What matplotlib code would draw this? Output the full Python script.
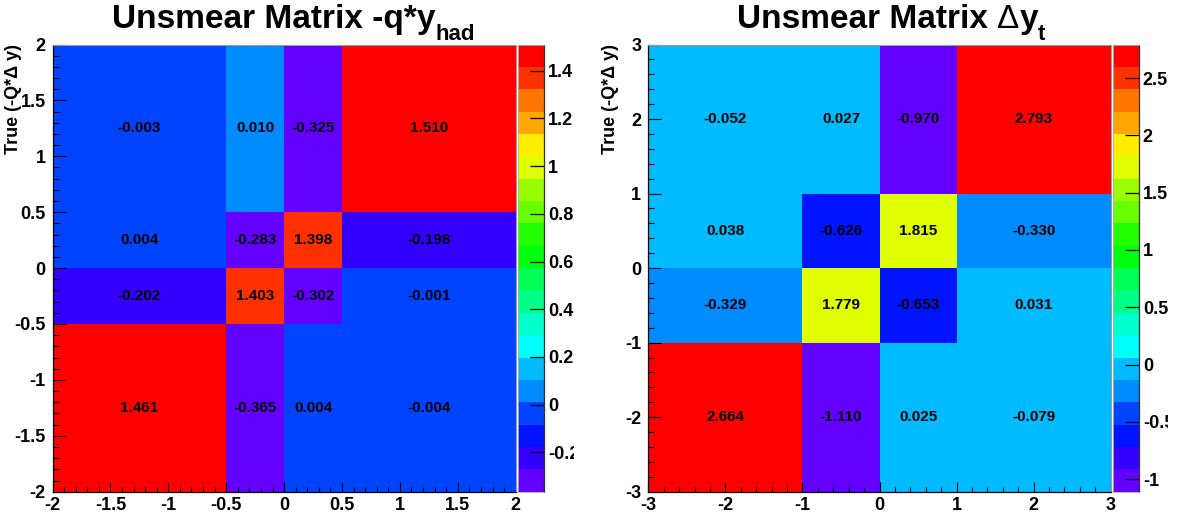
import colorsys
import numpy as np
import matplotlib
matplotlib.use("Agg")
import matplotlib.pyplot as plt
from matplotlib.colors import ListedColormap, BoundaryNorm
from matplotlib.ticker import AutoMinorLocator
from matplotlib.transforms import Bbox, TransformedBbox

FONT = "Liberation Sans"
plt.rcParams["font.family"] = [FONT, "DejaVu Sans"]
plt.rcParams["axes.unicode_minus"] = False

# ---- left panel: -q*y_had ----
edges_had = [-2.0, -0.5, 0.0, 0.5, 2.0]
unsmear_had = [
    [1.461, -0.365, 0.004, -0.004],
    [-0.202, 1.403, -0.302, -0.001],
    [0.004, -0.283, 1.398, -0.198],
    [-0.003, 0.010, -0.325, 1.510],
]
ticks_had = [-2, -1.5, -1, -0.5, 0, 0.5, 1, 1.5, 2]
cbar_ticks_had = [-0.2, 0, 0.2, 0.4, 0.6, 0.8, 1, 1.2, 1.4]

# ---- right panel: delta y_t ----
edges_dyt = [-3.0, -1.0, 0.0, 1.0, 3.0]
unsmear_dyt = [
    [2.664, -1.110, 0.025, -0.079],
    [-0.329, 1.779, -0.653, 0.031],
    [0.038, -0.626, 1.815, -0.330],
    [-0.052, 0.027, -0.970, 2.793],
]
ticks_dyt = [-3, -2, -1, 0, 1, 2, 3]
cbar_ticks_dyt = [-1, -0.5, 0, 0.5, 1, 1.5, 2, 2.5]

ylabel_text = "True (-Q*\u0394 y)"
N_CONT = 20
# cell values are quoted to 3 decimals; contour edges get one last-digit of slack
ROUND_TOL = 0.001


def pretty_palette(ncont, ncolors=50, max_hue=280.0):
    """Rainbow palette (hue 280 -> 0) sampled for ncont contour bands."""
    cols = []
    for j in range(ncont):
        idx = int((j + 0.99) * ncolors / ncont)
        hue = max_hue - (idx + 1) * (max_hue / ncolors)
        cols.append(colorsys.hls_to_rgb(hue / 360.0, 0.5, 1.0))
    return cols


CMAP = ListedColormap(pretty_palette(N_CONT))

W, H = 1180, 520
fig = plt.figure(figsize=(W / 100, H / 100), dpi=100)


def fx(px):
    return px / W


def fy(py):
    return 1 - py / H


def draw_panel(x0, x1, cx0, cx1, edges, values, ticks, cticks, clip_px, ylab_px):
    vals = np.array(values)
    zmin, zmax = vals.min(), vals.max()
    levels = np.linspace(zmin, zmax, N_CONT + 1)
    bounds = levels.copy()
    bounds[1:-1] -= ROUND_TOL
    norm = BoundaryNorm(bounds, N_CONT, clip=True)

    top, bot = 44.5, 491.7
    ax = fig.add_axes([fx(x0), fy(bot), fx(x1 - x0), (bot - top) / H])
    ax.pcolormesh(edges, edges, vals, cmap=CMAP, norm=norm, shading="flat")
    ax.set_xlim(edges[0], edges[-1])
    ax.set_ylim(edges[0], edges[-1])

    e = np.array(edges)
    centers = (e[:-1] + e[1:]) / 2
    for iy, yc in enumerate(centers):
        for ix, xc in enumerate(centers):
            ax.text(xc, yc, f"{vals[iy, ix]:.3f}", ha="center", va="center",
                    fontsize=11, fontweight="bold", color="black")

    labels = [f"{t:g}" for t in ticks]
    ax.set_xticks(ticks, labels=labels)
    ax.set_yticks(ticks, labels=labels)
    ax.xaxis.set_minor_locator(AutoMinorLocator(5))
    ax.yaxis.set_minor_locator(AutoMinorLocator(5))
    ax.tick_params(axis="both", which="both", direction="in", top=False,
                   right=False, colors="black", width=0.8)
    ax.tick_params(axis="x", which="major", length=7.5, pad=3.5)
    ax.tick_params(axis="x", which="minor", length=3.8)
    ax.tick_params(axis="y", which="major", length=9, pad=5)
    ax.tick_params(axis="y", which="minor", length=4.5)
    for lab in ax.get_xticklabels() + ax.get_yticklabels():
        lab.set_fontsize(13)
        lab.set_fontweight("bold")
    for s in ("left", "bottom"):
        ax.spines[s].set_color("black")
        ax.spines[s].set_linewidth(0.9)
    for s in ("top", "right"):
        ax.spines[s].set_color("#9a9a9a")
        ax.spines[s].set_linewidth(0.8)

    # palette axis
    cax = fig.add_axes([fx(cx0), fy(bot), fx(cx1 - cx0), (bot - top) / H])
    mids = (levels[:-1] + levels[1:]) / 2
    cax.pcolormesh([0, 1], levels, mids.reshape(-1, 1), cmap=CMAP, norm=norm,
                   shading="flat")
    cax.set_xlim(0, 1)
    cax.set_ylim(zmin, zmax)
    cax.set_xticks([])
    cax.yaxis.tick_right()
    cax.set_yticks(cticks, labels=[f"{t:g}" for t in cticks])
    cax.tick_params(axis="y", direction="in", length=10, width=0.9,
                    colors="black", pad=2.5)
    for s in ("left", "top", "bottom"):
        cax.spines[s].set_color("#b0b0b0")
        cax.spines[s].set_linewidth(0.6)
    cax.spines["right"].set_color("#333333")
    cax.spines["right"].set_linewidth(0.9)
    clip = TransformedBbox(Bbox.from_extents(0, 0, fx(clip_px), 1),
                           fig.transFigure)
    for t in cax.yaxis.get_major_ticks():
        t.label2.set_fontsize(13)
        t.label2.set_fontweight("bold")
        t.label2.set_clip_box(clip)
        t.label2.set_clip_on(True)

    fig.text(fx(ylab_px), fy(top), ylabel_text, rotation=90, ha="center",
             va="top", fontsize=13, fontweight="bold")
    return ax


draw_panel(52.5, 515.7, 517.7, 544.3, edges_had, unsmear_had, ticks_had,
           cbar_ticks_had, 574, 13.5)
draw_panel(648.3, 1110.7, 1112.7, 1139.3, edges_dyt, unsmear_dyt, ticks_dyt,
           cbar_ticks_dyt, 1168, 610.5)


def chain_text(x_px, base_px, pieces):
    """Draw text pieces left to right; each piece is (text, size, weight, dy_px)."""
    renderer = fig.canvas.get_renderer()
    x = fx(x_px)
    for text, size, weight, dy in pieces:
        t = fig.text(x, fy(base_px + dy), text, fontsize=size, fontweight=weight,
                     ha="left", va="baseline")
        bb = t.get_window_extent(renderer=renderer)
        x = bb.x1 / W


chain_text(112, 28, [("Unsmear Matrix -q*y", 24, "bold", 0),
                     ("had", 16, "bold", 12)])
chain_text(737, 28, [("Unsmear Matrix ", 24, "bold", 0),
                     ("\u0394", 24, "normal", 0),
                     ("y", 24, "bold", 0),
                     ("t", 16, "bold", 12)])

fig.savefig("out.png", dpi=100, facecolor="white")
